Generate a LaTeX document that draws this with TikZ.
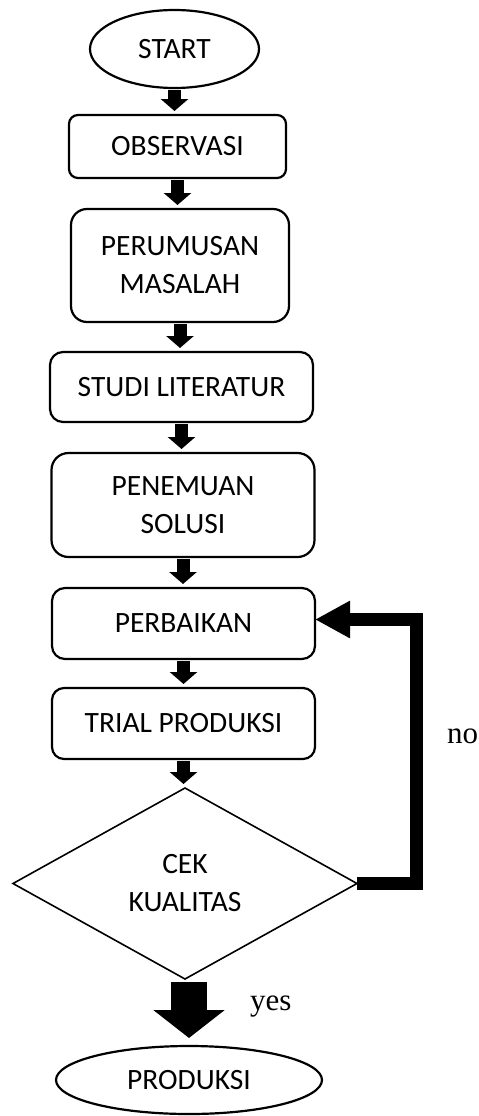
\documentclass[tikz,border=0pt]{standalone}
\usepackage{fontspec}
\setmainfont{Carlito}
\newfontfamily\labelfont{Liberation Serif}
\usetikzlibrary{arrows.meta, positioning, shapes.geometric}
\newlength{\shaftwidth}
\setlength{\shaftwidth}{13pt}
\tikzset{
    flowarrow/.style={line width=\shaftwidth, -{Triangle[width=27pt, length=12pt]}, shorten <=2pt, shorten >=4pt},
    flowtext/.style={font=\fontsize{29.5}{38}\selectfont}
}

\begin{document}
\begin{tikzpicture}[
    x=1pt, y=1pt,
    process/.style={draw, line width=2.2pt, rounded corners=#1, minimum width=263pt, outer sep=0pt, align=center, flowtext},
    process/.default=12pt,
    terminal/.style={draw, ellipse, line width=2.2pt, outer sep=0pt, flowtext},
    decision/.style={draw, diamond, line width=1.6pt, minimum width=344pt, minimum height=191pt, inner sep=0pt, outer sep=0pt, align=center, flowtext},
    answer/.style={font=\labelfont\fontsize{31}{36}\selectfont, anchor=base west, inner sep=0pt},
    bigarrow/.style={line width=36pt, -{Triangle[width=70pt, length=28pt]}, shorten <=3pt, shorten >=8pt},
    backarrow/.style={line width=13pt, -{Triangle[width=35pt, length=35pt]}},
    node distance=30pt
]
\useasboundingbox (0,0) rectangle (479,-1116);

% Main column
\node[terminal, minimum width=169pt, minimum height=78pt] (start) at (174.5,-49) {START};
\node[process=9pt, minimum width=217pt, minimum height=63pt, below=27pt of start, xshift=3pt] (observasi) {OBSERVASI};
\node[process=16pt, minimum width=218pt, minimum height=113pt, below=31pt of observasi, xshift=2.5pt] (rumusan) {PERUMUSAN\\MASALAH};
\node[process=13pt, minimum height=70pt, below=30pt of rumusan, xshift=1.5pt] (studi) {STUDI LITERATUR};
\node[process=17pt, minimum height=104pt, below=31pt of studi, xshift=1.5pt] (solusi) {PENEMUAN\\SOLUSI};
\node[process=13pt, minimum height=71pt, below=31pt of solusi, xshift=0.5pt] (perbaikan) {PERBAIKAN};
\node[process=12pt, minimum height=71pt, below=29pt of perbaikan] (trial) {TRIAL PRODUKSI};
\node[decision, below=29pt of trial, xshift=1.5pt] (cek) {CEK\\KUALITAS};
\node[terminal, minimum width=266pt, minimum height=68pt, below=67pt of cek, xshift=4pt] (produksi) {PRODUKSI};

% Arrows down the column
\foreach \from/\to in {start/observasi, observasi/rumusan, rumusan/studi, studi/solusi, solusi/perbaikan, perbaikan/trial, trial/cek} {
    \draw[flowarrow] (\from.south) -- (\from.south |- \to.north);
}

% yes branch
\draw[bigarrow] (produksi.north |- cek.south) -- (produksi.north);
\node[answer] (yeslbl) at (250,-1010) {yes};

% no branch back to PERBAIKAN
\draw[backarrow] (cek.east) -- ++(59pt,0) |- ([yshift=4pt]perbaikan.east);
\node[answer] (nolbl) at (447,-743) {no};

\end{tikzpicture}
\end{document}
